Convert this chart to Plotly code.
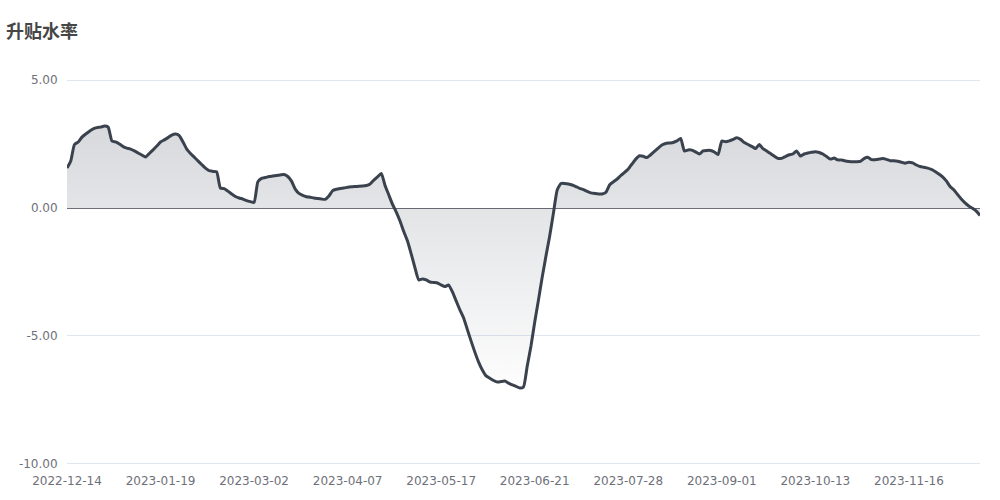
import plotly.graph_objects as go

title_text = "升贴水率"

tick_labels = ["2022-12-14", "2023-01-19", "2023-03-02", "2023-04-07", "2023-05-17",
               "2023-06-21", "2023-07-28", "2023-09-01", "2023-10-13", "2023-11-16"]
tick_step = 25

y_tick_vals = [-10, -5, 0, 5]
y_tick_text = ["-10.00", "-5.00", "0.00", "5.00"]

values = [
    1.56, 1.84, 2.48, 2.58, 2.77, 2.89, 3.00, 3.09, 3.14, 3.16,
    3.20, 3.16, 2.62, 2.58, 2.50, 2.40, 2.34, 2.30, 2.23, 2.15,
    2.07, 1.99, 2.13, 2.27, 2.42, 2.58, 2.66, 2.75, 2.85, 2.89,
    2.83, 2.58, 2.30, 2.13, 1.99, 1.84, 1.70, 1.56, 1.46, 1.43,
    1.41, 0.78, 0.76, 0.66, 0.55, 0.45, 0.39, 0.35, 0.29, 0.25,
    0.22, 1.02, 1.16, 1.19, 1.23, 1.25, 1.27, 1.29, 1.31, 1.23,
    1.05, 0.74, 0.57, 0.49, 0.44, 0.42, 0.39, 0.37, 0.35, 0.34,
    0.47, 0.68, 0.73, 0.76, 0.78, 0.81, 0.83, 0.84, 0.85, 0.86,
    0.88, 0.94, 1.09, 1.22, 1.35, 0.88, 0.51, 0.14, -0.16, -0.51,
    -0.92, -1.29, -1.80, -2.34, -2.81, -2.77, -2.81, -2.89, -2.91, -2.93,
    -3.01, -3.07, -3.01, -3.28, -3.63, -3.98, -4.30, -4.75, -5.20, -5.63,
    -6.02, -6.33, -6.56, -6.65, -6.74, -6.80, -6.78, -6.76, -6.84, -6.91,
    -6.97, -7.03, -6.99, -6.17, -5.39, -4.45, -3.59, -2.70, -1.88, -1.09,
    -0.20, 0.70, 0.96, 0.96, 0.94, 0.90, 0.84, 0.77, 0.72, 0.65,
    0.59, 0.57, 0.55, 0.55, 0.61, 0.90, 1.02, 1.13, 1.27, 1.39,
    1.52, 1.72, 1.91, 2.04, 2.02, 1.97, 2.08, 2.21, 2.34, 2.46,
    2.52, 2.54, 2.56, 2.62, 2.72, 2.23, 2.27, 2.26, 2.19, 2.11,
    2.23, 2.25, 2.25, 2.19, 2.09, 2.62, 2.59, 2.62, 2.68, 2.74,
    2.68, 2.56, 2.48, 2.41, 2.32, 2.48, 2.32, 2.23, 2.13, 2.03,
    1.94, 1.94, 2.01, 2.08, 2.11, 2.23, 2.03, 2.11, 2.15, 2.18,
    2.20, 2.17, 2.11, 2.01, 1.91, 1.95, 1.88, 1.88, 1.84, 1.82,
    1.81, 1.81, 1.82, 1.93, 1.98, 1.89, 1.89, 1.91, 1.93, 1.90,
    1.85, 1.85, 1.83, 1.79, 1.75, 1.79, 1.76, 1.68, 1.62, 1.59,
    1.56, 1.51, 1.43, 1.33, 1.22, 1.06, 0.84, 0.71, 0.53, 0.35,
    0.20, 0.08, -0.01, -0.12, -0.29,
]

x_idx = list(range(len(values)))
tick_vals = [i * tick_step for i in range(len(tick_labels))]

fig = go.Figure()
fig.add_trace(go.Scatter(
    x=x_idx, y=values, mode="lines",
    line=dict(color="#3a424e", width=3, shape="spline", smoothing=0.5),
    fill="tozeroy",
    fillgradient=dict(
        type="vertical",
        start=min(values), stop=max(values),
        colorscale=[[0, "rgba(55,65,81,0.01)"], [1, "rgba(55,65,81,0.2)"]],
    ),
    hoverinfo="x+y",
    showlegend=False,
))

tick_font = dict(family="DejaVu Sans, sans-serif", size=12, color="#6E7079")

fig.update_layout(
    width=1000, height=500,
    margin=dict(l=67, r=20, t=79, b=35),
    paper_bgcolor="white", plot_bgcolor="white",
    title=dict(
        text="<b>" + title_text + "</b>",
        x=0.006, xref="container", xanchor="left",
        y=0.936, yref="container", yanchor="middle",
        font=dict(family="Noto Sans CJK SC, sans-serif", size=18, color="#464646"),
    ),
    xaxis=dict(
        range=[0, len(values) - 1],
        tickmode="array", tickvals=tick_vals, ticktext=tick_labels,
        showgrid=False, zeroline=False, showline=False,
        ticks="outside", ticklen=5, tickcolor="rgba(0,0,0,0)",
        tickfont=tick_font,
    ),
    yaxis=dict(
        range=[-10.04, 5.04],
        tickmode="array", tickvals=y_tick_vals, ticktext=y_tick_text,
        showgrid=True, gridcolor="#E0E6F1", gridwidth=1,
        zeroline=True, zerolinecolor="#6E7079", zerolinewidth=1,
        showline=False,
        ticks="outside", ticklen=6, tickcolor="rgba(0,0,0,0)",
        tickfont=tick_font,
    ),
)

fig.write_html("out.html", config={"displayModeBar": False},
               post_script="document.body.style.margin='0';")
